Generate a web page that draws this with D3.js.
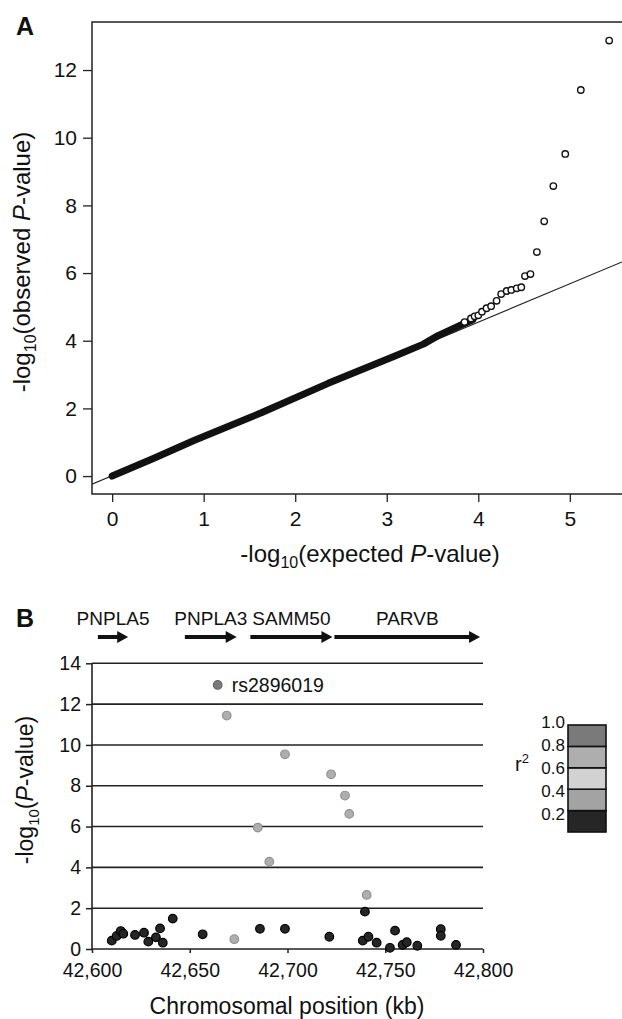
<!DOCTYPE html>
<html>
<head>
<meta charset="utf-8">
<script src="https://cdn.jsdelivr.net/npm/d3@7"></script>
<style>
  body { margin: 0; background: #fff; }
  text { font-family: "Liberation Sans", Arial, sans-serif; fill: #111; }
</style>
</head>
<body>
<script>
// ---- panel A: QQ plot ----
// dense part of the curve (read along the thick band)
var bandExpected = [0, 0.45, 0.9, 1.63, 2.36, 3.09, 3.4, 3.56, 3.8, 3.94]
var bandObserved = [0, 0.52, 1.06, 1.87, 2.74, 3.55, 3.9, 4.15, 4.45, 4.62]
// individual open circles in the tail
var tailExpected = [3.85, 3.92, 3.96, 4.0, 4.04, 4.09, 4.14, 4.2, 4.25, 4.31, 4.36, 4.42, 4.47, 4.51, 4.57, 4.64, 4.72, 4.82, 4.95, 5.12, 5.43]
var tailObserved = [4.55, 4.66, 4.72, 4.75, 4.86, 4.96, 5.02, 5.18, 5.38, 5.47, 5.5, 5.55, 5.58, 5.91, 5.97, 6.62, 7.53, 8.57, 9.52, 11.41, 12.87]
var refExpected = [-0.22, 5.57]
var refObserved = [-0.24, 6.33]
var ticksA_x = [0, 1, 2, 3, 4, 5]
var ticksA_y = [0, 2, 4, 6, 8, 10, 12]

// ---- panel B: regional plot ----
var geneNames = ["PNPLA5", "PNPLA3", "SAMM50", "PARVB"]
var geneStart = [42603, 42647.5, 42681, 42724]
var geneEnd   = [42618.5, 42674, 42723, 42798.5]

var snpPos  = [42610.1, 42612.6, 42614.7, 42616.0, 42622, 42626.6, 42628.8, 42632.7, 42634.8, 42636.2, 42641.3, 42656.6, 42672.8, 42685.9, 42698.7,
               42664.3, 42668.9, 42698.7, 42684.8, 42690.7, 42722.3, 42729.4, 42731.6, 42740.5, 42739.6,
               42721.4, 42738.5, 42741.4, 42745.6, 42755, 42752.4, 42758.9, 42761, 42766.4, 42778.4, 42778.4, 42786.2]
var snpLogP = [0.41, 0.64, 0.88, 0.75, 0.69, 0.8, 0.36, 0.57, 1.01, 0.31, 1.49, 0.72, 0.48, 0.99, 0.99,
               12.94, 11.44, 9.54, 5.95, 4.28, 8.56, 7.52, 6.62, 2.65, 1.83,
               0.6, 0.41, 0.6, 0.31, 0.9, 0.06, 0.2, 0.33, 0.16, 0.97, 0.65, 0.2]
var snpR2   = [0.1, 0.1, 0.1, 0.1, 0.1, 0.1, 0.1, 0.1, 0.1, 0.1, 0.1, 0.1, 0.7, 0.1, 0.1,
               1.0, 0.7, 0.7, 0.7, 0.7, 0.7, 0.7, 0.7, 0.7, 0.1,
               0.1, 0.1, 0.1, 0.1, 0.1, 0.1, 0.1, 0.1, 0.1, 0.1, 0.1, 0.1]
var leadSnp = "rs2896019"
var ticksB_x = [42600, 42650, 42700, 42750, 42800]
var ticksB_y = [0, 2, 4, 6, 8, 10, 12, 14]

var legendBreaks = [0.2, 0.4, 0.6, 0.8, 1.0]
var legendColors = ["#262626", "#a3a3a3", "#d2d2d2", "#aeaeae", "#7a7a7a"]  // bins 0-0.2 ... 0.8-1.0

var svg = d3.select("body").append("svg")
    .attr("width", 622)
    .attr("height", 1019)

// =================== A ===================
var xA = d3.scaleLinear().domain([-0.22, 5.57]).range([92, 622])
var yA = d3.scaleLinear().domain([-0.53, 13.42]).range([494, 22])

var gA = svg.append("g")

gA.append("text")
    .attr("x", 16).attr("y", 35)
    .style("font-size", "25px").style("font-weight", "bold")
    .text("A")

// frame (right side falls outside the picture)
gA.append("path")
    .attr("d", "M" + 624 + "," + yA.range()[1] + "H" + xA.range()[0] + "V" + yA.range()[0] + "H" + 624)
    .attr("fill", "none").attr("stroke", "#222").attr("stroke-width", 1.5)

var axA_y = gA.append("g")
    .attr("transform", "translate(" + xA.range()[0] + ",0)")
    .call(d3.axisLeft(yA).tickValues(ticksA_y).tickSize(9).tickPadding(6).tickFormat(d3.format("d")))
var axA_x = gA.append("g")
    .attr("transform", "translate(0," + yA.range()[0] + ")")
    .call(d3.axisBottom(xA).tickValues(ticksA_x).tickSize(8).tickPadding(9).tickFormat(d3.format("d")))
;[axA_x, axA_y].forEach(function(a){
    a.select(".domain").remove()
    a.selectAll("line").attr("stroke", "#222").attr("stroke-width", 1.3)
    a.selectAll("text").style("font-size", "21px").attr("fill", "#111")
        .style("font-family", "'Liberation Sans', Arial, sans-serif")
})

// reference line
var clipA = svg.append("clipPath").attr("id", "clipA")
clipA.append("rect").attr("x", 92).attr("y", 22).attr("width", 530).attr("height", 472)

gA.append("line")
    .attr("clip-path", "url(#clipA)")
    .attr("x1", xA(refExpected[0])).attr("y1", yA(refObserved[0]))
    .attr("x2", xA(refExpected[1])).attr("y2", yA(refObserved[1]))
    .attr("stroke", "#222").attr("stroke-width", 1.1)

// dense band of points
var band = bandExpected.map(function(d, i){ return [d, bandObserved[i]] })
gA.append("path")
    .datum(band)
    .attr("fill", "none")
    .attr("stroke", "#111")
    .attr("stroke-width", 7)
    .attr("stroke-linecap", "round")
    .attr("stroke-linejoin", "round")
    .attr("d", d3.line().x(d => xA(d[0])).y(d => yA(d[1])))

// tail circles
gA.append("g")
    .selectAll("circle")
    .data(tailExpected)
    .enter()
    .append("circle")
    .attr("cx", d => xA(d))
    .attr("cy", (d, i) => yA(tailObserved[i]))
    .attr("r", 3.2)
    .attr("fill", "#fff")
    .attr("stroke", "#111")
    .attr("stroke-width", 1.4)

// axis titles
var tA = gA.append("text")
    .attr("x", 370).attr("y", 562)
    .attr("text-anchor", "middle")
    .style("font-size", "24px")
tA.append("tspan").text("-log")
tA.append("tspan").text("10").style("font-size", "16px").attr("dy", 6)
tA.append("tspan").text("(expected ").attr("dy", -6)
tA.append("tspan").text("P").style("font-style", "italic")
tA.append("tspan").text("-value)")

var tAy = gA.append("text")
    .attr("transform", "translate(30,262) rotate(-90)")
    .attr("text-anchor", "middle")
    .style("font-size", "24px")
tAy.append("tspan").text("-log")
tAy.append("tspan").text("10").style("font-size", "16px").attr("dy", 6)
tAy.append("tspan").text("(observed ").attr("dy", -6)
tAy.append("tspan").text("P").style("font-style", "italic")
tAy.append("tspan").text("-value)")

// =================== B ===================
var xB = d3.scaleLinear().domain([42600, 42800]).range([92, 483])
var yB = d3.scaleLinear().domain([0, 14]).range([949, 663.3])

var gB = svg.append("g")

gB.append("text")
    .attr("x", 16).attr("y", 627)
    .style("font-size", "25px").style("font-weight", "bold")
    .text("B")

// genes
var geneY = 637
var genes = gB.append("g").selectAll("g")
    .data(geneNames)
    .enter()
    .append("g")
genes.append("line")
    .attr("x1", (d, i) => xB(geneStart[i]))
    .attr("x2", (d, i) => xB(geneEnd[i]) - 9)
    .attr("y1", geneY).attr("y2", geneY)
    .attr("stroke", "#111").attr("stroke-width", 4)
genes.append("path")
    .attr("d", (d, i) => {
        var e = xB(geneEnd[i])
        return "M" + e + "," + geneY + "L" + (e - 11) + "," + (geneY - 6) + "L" + (e - 11) + "," + (geneY + 6) + "Z"
    })
    .attr("fill", "#111")
genes.append("text")
    .attr("x", (d, i) => (xB(geneStart[i]) + xB(geneEnd[i])) / 2)
    .attr("y", 625)
    .attr("text-anchor", "middle")
    .style("font-size", "19px")
    .text(d => d)

// gridlines
gB.append("g")
    .selectAll("line")
    .data(ticksB_y.filter(d => d > 0))
    .enter()
    .append("line")
    .attr("x1", xB.range()[0]).attr("x2", xB.range()[1])
    .attr("y1", d => yB(d)).attr("y2", d => yB(d))
    .attr("stroke", "#222").attr("stroke-width", 1.6)

var axB_y = gB.append("g")
    .attr("transform", "translate(" + xB.range()[0] + ",0)")
    .call(d3.axisLeft(yB).tickValues(ticksB_y).tickSize(6).tickPadding(5))
var axB_x = gB.append("g")
    .attr("transform", "translate(0," + yB.range()[0] + ")")
    .call(d3.axisBottom(xB).tickValues(ticksB_x).tickSize(4).tickPadding(10).tickFormat(d3.format(",")))
;[axB_x, axB_y].forEach(function(a){
    a.select(".domain").attr("stroke", "#222").attr("stroke-width", 1.6)
    a.selectAll("line").attr("stroke", "#222").attr("stroke-width", 1.5)
    a.selectAll("text").style("font-size", "19.5px").attr("fill", "#111")
        .style("font-family", "'Liberation Sans', Arial, sans-serif")
})
axB_y.select(".domain").attr("d", "M0," + yB.range()[0] + "V" + yB.range()[1])
axB_x.select(".domain").attr("d", "M" + xB.range()[0] + ",0H" + xB.range()[1])

// points
var r2Color = function(r){
    var i = Math.min(4, Math.floor(r / 0.2 - 1e-9))
    return legendColors[Math.max(0, i)]
}
gB.append("g")
    .selectAll("circle")
    .data(snpPos)
    .enter()
    .append("circle")
    .attr("cx", d => xB(d))
    .attr("cy", (d, i) => yB(snpLogP[i]))
    .attr("r", 4.3)
    .attr("fill", (d, i) => r2Color(snpR2[i]))
    .attr("stroke", (d, i) => snpR2[i] < 0.2 ? "#000" : d3.color(r2Color(snpR2[i])).darker(0.5))
    .attr("stroke-width", 1.2)

var leadIdx = snpR2.indexOf(1.0)
gB.append("text")
    .attr("x", xB(snpPos[leadIdx]) + 14)
    .attr("y", yB(snpLogP[leadIdx]))
    .attr("dy", "0.35em")
    .style("font-size", "19.5px")
    .text(leadSnp)

// titles
var tBy = gB.append("text")
    .attr("transform", "translate(33,790) rotate(-90)")
    .attr("text-anchor", "middle")
    .style("font-size", "23px")
tBy.append("tspan").text("-log")
tBy.append("tspan").text("10").style("font-size", "15px").attr("dy", 6)
tBy.append("tspan").text("(").attr("dy", -6)
tBy.append("tspan").text("P").style("font-style", "italic")
tBy.append("tspan").text("-value)")

gB.append("text")
    .attr("x", 287).attr("y", 1014)
    .attr("text-anchor", "middle")
    .style("font-size", "23px")
    .text("Chromosomal position (kb)")

// legend
var legY = d3.scaleLinear().domain([0, 1]).range([832, 725])
var legX = 568, legW = 38
var bins = [0].concat(legendBreaks)
gB.append("g")
    .selectAll("rect")
    .data(legendBreaks)
    .enter()
    .append("rect")
    .attr("x", legX)
    .attr("y", d => legY(d))
    .attr("width", legW)
    .attr("height", (d, i) => legY(bins[i]) - legY(d))
    .attr("fill", (d, i) => legendColors[i])
    .attr("stroke", "#111").attr("stroke-width", 1.6)
gB.append("g")
    .selectAll("text")
    .data(legendBreaks)
    .enter()
    .append("text")
    .attr("x", legX - 3)
    .attr("y", d => legY(d) - 3 + (1 - d) * 8)
    .attr("dy", "0.35em")
    .attr("text-anchor", "end")
    .style("font-size", "17px")
    .text(d => d3.format(".1f")(d))
var r2lab = gB.append("text")
    .attr("x", 515).attr("y", 771)
    .style("font-size", "20px")
r2lab.append("tspan").text("r")
r2lab.append("tspan").text("2").style("font-size", "13px").attr("dy", -8)
</script>
</body>
</html>
